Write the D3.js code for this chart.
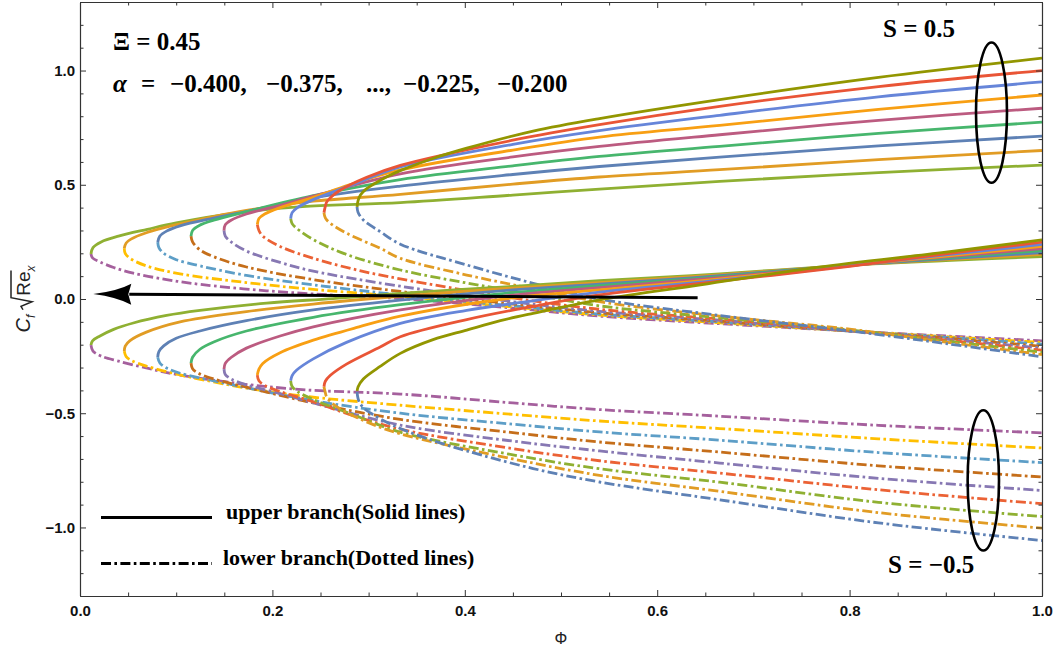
<!DOCTYPE html>
<html>
<head>
<meta charset="utf-8">
<script src="https://cdn.jsdelivr.net/npm/d3@7"></script>
<style>
  body { margin: 0; background: #fff; }
  svg { display: block; }
</style>
</head>
<body>
<svg id="chart" width="1054" height="651"></svg>
<script>
// Skin friction C_f sqrt(Re_x) against the suction parameter Phi,
// Xi = 0.45, alpha = -0.400 ... -0.200 (nine values), S = 0.5 and S = -0.5.
// Each curve is a list of [Phi, value] pairs; index k runs with alpha.

const alphaValues = [-0.400, -0.375, -0.350, -0.325, -0.300, -0.275, -0.250, -0.225, -0.200];

// S = 0.5, upper branch (solid)
const upperS05 = [
  [[0.0114,0.197],[0.0135,0.225],[0.022,0.25],[0.04,0.275],[0.07,0.305],[0.1,0.333],[0.165,0.378],[0.235,0.405],[0.333,0.422],[0.45,0.455],[0.54,0.481],[0.665,0.515],[0.83,0.553],[1.0,0.586]],
  [[0.046,0.222],[0.048,0.245],[0.053,0.262],[0.069,0.29],[0.104,0.329],[0.139,0.361],[0.173,0.388],[0.208,0.41],[0.2425,0.428],[0.333,0.458],[0.45,0.503],[0.54,0.534],[0.665,0.566],[0.83,0.61],[1.0,0.65]],
  [[0.0808,0.249],[0.083,0.275],[0.09,0.297],[0.104,0.32],[0.139,0.354],[0.173,0.383],[0.2425,0.443],[0.333,0.494],[0.45,0.545],[0.54,0.58],[0.665,0.621],[0.83,0.67],[1.0,0.713]],
  [[0.1154,0.275],[0.117,0.3],[0.124,0.322],[0.139,0.345],[0.173,0.382],[0.2425,0.452],[0.333,0.523],[0.45,0.583],[0.54,0.624],[0.665,0.668],[0.83,0.725],[1.0,0.774]],
  [[0.1497,0.3],[0.151,0.325],[0.157,0.345],[0.173,0.372],[0.208,0.41],[0.2425,0.45],[0.333,0.548],[0.45,0.622],[0.54,0.668],[0.665,0.719],[0.83,0.782],[1.0,0.835]],
  [[0.1843,0.326],[0.186,0.352],[0.192,0.372],[0.208,0.4],[0.2425,0.445],[0.28,0.5],[0.333,0.565],[0.45,0.652],[0.54,0.709],[0.665,0.76],[0.83,0.83],[1.0,0.893]],
  [[0.219,0.352],[0.2205,0.378],[0.226,0.4],[0.2425,0.435],[0.28,0.495],[0.333,0.578],[0.45,0.677],[0.54,0.737],[0.665,0.804],[0.83,0.885],[1.0,0.95]],
  [[0.2536,0.378],[0.255,0.405],[0.2565,0.425],[0.262,0.45],[0.27,0.475],[0.298,0.533],[0.333,0.585],[0.45,0.695],[0.54,0.763],[0.665,0.843],[0.83,0.93],[1.0,1.0]],
  [[0.288,0.403],[0.289,0.43],[0.2915,0.455],[0.297,0.48],[0.305,0.502],[0.319,0.535],[0.333,0.562],[0.367,0.615],[0.402,0.66],[0.471,0.735],[0.54,0.79],[0.665,0.873],[0.83,0.97],[1.0,1.054]]
];

// S = 0.5, lower branch (dash-dot)
const lowerS05 = [
  [[0.0114,0.197],[0.013,0.18],[0.0208,0.162],[0.035,0.138],[0.0554,0.113],[0.09,0.085],[0.1247,0.064],[0.194,0.036],[0.263,0.017],[0.333,0.002],[0.45,-0.04],[0.54,-0.075],[0.665,-0.108],[0.8,-0.14],[0.9,-0.162],[1.0,-0.183]],
  [[0.046,0.222],[0.047,0.2],[0.052,0.178],[0.069,0.145],[0.104,0.11],[0.173,0.072],[0.2425,0.042],[0.333,0.012],[0.45,-0.035],[0.54,-0.07],[0.665,-0.104],[0.8,-0.14],[0.9,-0.165],[1.0,-0.19]],
  [[0.0808,0.249],[0.082,0.225],[0.087,0.2],[0.1,0.172],[0.1247,0.145],[0.173,0.103],[0.2425,0.062],[0.333,0.018],[0.45,-0.03],[0.54,-0.066],[0.665,-0.1],[0.8,-0.14],[0.9,-0.168],[1.0,-0.198]],
  [[0.1154,0.275],[0.117,0.25],[0.1247,0.215],[0.139,0.185],[0.173,0.14],[0.2425,0.085],[0.333,0.033],[0.45,-0.022],[0.54,-0.06],[0.665,-0.097],[0.8,-0.14],[0.9,-0.172],[1.0,-0.207]],
  [[0.1497,0.3],[0.151,0.275],[0.157,0.25],[0.173,0.21],[0.208,0.16],[0.2425,0.122],[0.333,0.056],[0.45,-0.012],[0.54,-0.054],[0.665,-0.093],[0.8,-0.14],[0.9,-0.176],[1.0,-0.215]],
  [[0.1843,0.326],[0.186,0.3],[0.19,0.275],[0.208,0.23],[0.2425,0.178],[0.29,0.125],[0.333,0.088],[0.45,0.005],[0.54,-0.045],[0.665,-0.088],[0.8,-0.138],[0.9,-0.18],[1.0,-0.224]],
  [[0.219,0.352],[0.2205,0.33],[0.225,0.31],[0.2425,0.26],[0.277,0.195],[0.333,0.127],[0.402,0.07],[0.471,0.02],[0.54,-0.03],[0.665,-0.082],[0.8,-0.135],[0.9,-0.184],[1.0,-0.233]],
  [[0.2536,0.378],[0.255,0.355],[0.26,0.332],[0.277,0.288],[0.312,0.222],[0.333,0.178],[0.402,0.105],[0.471,0.045],[0.54,-0.012],[0.665,-0.075],[0.8,-0.132],[0.9,-0.189],[1.0,-0.243]],
  [[0.288,0.403],[0.289,0.38],[0.2945,0.346],[0.312,0.295],[0.333,0.24],[0.402,0.149],[0.471,0.069],[0.54,0.0],[0.665,-0.072],[0.8,-0.14],[0.9,-0.195],[1.0,-0.253]]
];

// S = -0.5, upper branch (solid)
const upperSm05 = [
  [[0.0114,-0.202],[0.013,-0.183],[0.0208,-0.162],[0.035,-0.133],[0.0554,-0.105],[0.09,-0.072],[0.1247,-0.05],[0.194,-0.018],[0.263,0.002],[0.333,0.025],[0.45,0.055],[0.54,0.08],[0.665,0.11],[0.8,0.148],[0.9,0.168],[1.0,0.186]],
  [[0.046,-0.229],[0.047,-0.206],[0.052,-0.182],[0.069,-0.145],[0.104,-0.1],[0.173,-0.055],[0.2425,-0.022],[0.333,0.012],[0.45,0.048],[0.54,0.072],[0.665,0.106],[0.8,0.148],[0.9,0.172],[1.0,0.195]],
  [[0.0808,-0.255],[0.082,-0.23],[0.087,-0.205],[0.1,-0.172],[0.1247,-0.14],[0.173,-0.095],[0.2425,-0.048],[0.333,-0.005],[0.45,0.04],[0.54,0.065],[0.665,0.102],[0.8,0.148],[0.9,0.176],[1.0,0.203]],
  [[0.1154,-0.281],[0.117,-0.255],[0.1247,-0.22],[0.139,-0.188],[0.173,-0.14],[0.2425,-0.08],[0.333,-0.025],[0.45,0.028],[0.54,0.058],[0.665,0.098],[0.8,0.148],[0.9,0.18],[1.0,0.212]],
  [[0.1497,-0.307],[0.151,-0.282],[0.157,-0.256],[0.173,-0.215],[0.208,-0.162],[0.2425,-0.122],[0.333,-0.048],[0.45,0.017],[0.54,0.05],[0.665,0.094],[0.8,0.148],[0.9,0.184],[1.0,0.221]],
  [[0.1843,-0.333],[0.186,-0.307],[0.19,-0.282],[0.208,-0.235],[0.2425,-0.18],[0.29,-0.122],[0.333,-0.075],[0.45,0.005],[0.54,0.04],[0.665,0.088],[0.8,0.146],[0.9,0.188],[1.0,0.23]],
  [[0.219,-0.358],[0.2205,-0.335],[0.225,-0.312],[0.2425,-0.262],[0.277,-0.19],[0.333,-0.107],[0.402,-0.05],[0.471,-0.008],[0.54,0.03],[0.665,0.082],[0.8,0.145],[0.9,0.193],[1.0,0.239]],
  [[0.2536,-0.384],[0.255,-0.36],[0.26,-0.335],[0.277,-0.285],[0.312,-0.21],[0.333,-0.165],[0.402,-0.09],[0.471,-0.032],[0.54,0.018],[0.665,0.078],[0.8,0.143],[0.9,0.198],[1.0,0.249]],
  [[0.288,-0.407],[0.289,-0.385],[0.2945,-0.35],[0.312,-0.295],[0.333,-0.238],[0.367,-0.178],[0.402,-0.136],[0.437,-0.095],[0.471,-0.063],[0.54,-0.004],[0.645,0.062],[0.766,0.138],[0.9,0.205],[1.0,0.259]]
];

// S = -0.5, lower branch (dash-dot)
const lowerSm05 = [
  [[0.0114,-0.202],[0.0135,-0.228],[0.022,-0.25],[0.04,-0.272],[0.07,-0.303],[0.1,-0.33],[0.165,-0.37],[0.235,-0.398],[0.333,-0.416],[0.45,-0.455],[0.54,-0.484],[0.665,-0.513],[0.83,-0.553],[1.0,-0.586]],
  [[0.046,-0.229],[0.048,-0.252],[0.053,-0.268],[0.069,-0.294],[0.104,-0.332],[0.139,-0.363],[0.173,-0.39],[0.208,-0.412],[0.2425,-0.43],[0.333,-0.465],[0.45,-0.505],[0.54,-0.534],[0.665,-0.567],[0.83,-0.612],[1.0,-0.652]],
  [[0.0808,-0.255],[0.083,-0.28],[0.09,-0.302],[0.104,-0.325],[0.139,-0.358],[0.173,-0.388],[0.2425,-0.445],[0.333,-0.5],[0.45,-0.548],[0.54,-0.582],[0.665,-0.618],[0.83,-0.672],[1.0,-0.716]],
  [[0.1154,-0.281],[0.117,-0.305],[0.124,-0.327],[0.139,-0.35],[0.173,-0.386],[0.2425,-0.455],[0.333,-0.527],[0.45,-0.585],[0.54,-0.626],[0.665,-0.67],[0.83,-0.73],[1.0,-0.779]],
  [[0.1497,-0.307],[0.151,-0.33],[0.157,-0.35],[0.173,-0.376],[0.208,-0.414],[0.2425,-0.455],[0.333,-0.552],[0.45,-0.622],[0.54,-0.665],[0.665,-0.718],[0.83,-0.785],[1.0,-0.838]],
  [[0.1843,-0.333],[0.186,-0.358],[0.192,-0.378],[0.208,-0.405],[0.2425,-0.45],[0.28,-0.505],[0.333,-0.57],[0.45,-0.655],[0.54,-0.708],[0.665,-0.762],[0.83,-0.835],[1.0,-0.896]],
  [[0.219,-0.358],[0.2205,-0.383],[0.226,-0.405],[0.2425,-0.44],[0.28,-0.5],[0.333,-0.583],[0.45,-0.682],[0.54,-0.743],[0.665,-0.802],[0.83,-0.89],[1.0,-0.952]],
  [[0.2536,-0.384],[0.255,-0.41],[0.2565,-0.43],[0.262,-0.455],[0.27,-0.48],[0.298,-0.538],[0.333,-0.59],[0.45,-0.7],[0.54,-0.772],[0.665,-0.842],[0.83,-0.935],[1.0,-1.003]],
  [[0.288,-0.407],[0.289,-0.435],[0.2915,-0.46],[0.297,-0.485],[0.305,-0.507],[0.319,-0.54],[0.333,-0.567],[0.367,-0.62],[0.402,-0.665],[0.471,-0.742],[0.54,-0.801],[0.665,-0.879],[0.83,-0.98],[1.0,-1.057]]
];

// Line colours for the two branch styles, by alpha index
const solidColors = ["#8FB032","#E19C24","#5E81B5","#47B66D","#BC5B80","#F89F13","#6685D9","#E95536","#929600"];
const dashColors  = ["#A5609D","#FFBF00","#5D9EC7","#C56E1A","#8778B3","#EB6235","#8FB032","#E19C24","#5E81B5"];

// Axis ticks
const xMajorTicks = [0, 0.2, 0.4, 0.6, 0.8, 1.0];
const xMinorTicks = [0.05,0.1,0.15,0.25,0.3,0.35,0.45,0.5,0.55,0.65,0.7,0.75,0.85,0.9,0.95];
const yMajorTicks = [-1.0, -0.5, 0, 0.5, 1.0];
const yMinorTicks = [-1.2,-1.1,-0.9,-0.8,-0.7,-0.6,-0.4,-0.3,-0.2,-0.1,0.1,0.2,0.3,0.4,0.6,0.7,0.8,0.9,1.1,1.2];

// Annotation anchors (data coordinates)
const arrowFrom = [0.642, 0.006];
const arrowTo = [0.0138, 0.022];
const ellipsePos = { cx: 0.9475, cy: 0.816, rx: 0.0161, ry: 0.307 };
const ellipseNeg = { cx: 0.939, cy: -0.794, rx: 0.0163, ry: 0.307 };

const W = 1054, H = 651;
const plot = { left: 80, right: 1042, top: 2, bottom: 596 };

const x = d3.scaleLinear().domain([0, 1]).range([plot.left, plot.right]);
const y = d3.scaleLinear().domain([-1.3, 1.3]).range([plot.bottom, plot.top]);

const svg = d3.select("#chart");
svg.append("rect").attr("width", W).attr("height", H).attr("fill", "#fff");

svg.append("defs").append("clipPath").attr("id", "plotClip")
  .append("rect")
  .attr("x", plot.left).attr("y", plot.top)
  .attr("width", plot.right - plot.left).attr("height", plot.bottom - plot.top);

const line = d3.line()
  .x(d => x(d[0]))
  .y(d => y(d[1]))
  .curve(d3.curveCatmullRom.alpha(0.5));

const DASH = "10,3.4,2.6,3.4";
const curves = svg.append("g").attr("clip-path", "url(#plotClip)");

function drawFamily(data, colors, dashed) {
  curves.append("g")
    .selectAll("path")
    .data(data)
    .join("path")
    .attr("d", line)
    .attr("fill", "none")
    .attr("stroke", (d, i) => colors[i])
    .attr("stroke-width", 2.8)
    .attr("stroke-linecap", "butt")
    .attr("stroke-dasharray", dashed ? DASH : null);
}

drawFamily(lowerS05, dashColors, true);
drawFamily(upperSm05, solidColors, false);
drawFamily(lowerSm05, dashColors, true);
drawFamily(upperS05, solidColors, false);

// ---- frame and ticks ----
const fmt = d3.format(".1f");
const frameColor = "#333";

function styleAxis(g) {
  g.selectAll(".domain").attr("stroke", frameColor).attr("stroke-width", 1.1);
  g.selectAll(".tick line").attr("stroke", frameColor).attr("stroke-width", 1);
  g.selectAll(".tick text")
    .attr("fill", "#111")
    .style("font-family", "'Liberation Sans', Arial, sans-serif")
    .style("font-weight", "bold")
    .style("font-size", "15px");
}

const bottomG = svg.append("g").attr("transform", `translate(0,${plot.bottom})`);
bottomG.append("g").call(d3.axisBottom(x).tickValues(xMinorTicks).tickSizeInner(-3.5).tickSizeOuter(0).tickFormat("")).call(styleAxis);
bottomG.append("g").call(d3.axisBottom(x).tickValues(xMajorTicks).tickSizeInner(-6).tickSizeOuter(0).tickPadding(9).tickFormat(fmt)).call(styleAxis);

const topG = svg.append("g").attr("transform", `translate(0,${plot.top})`);
topG.append("g").call(d3.axisTop(x).tickValues(xMinorTicks).tickSizeInner(-3.5).tickSizeOuter(0).tickFormat("")).call(styleAxis);
topG.append("g").call(d3.axisTop(x).tickValues(xMajorTicks).tickSizeInner(-6).tickSizeOuter(0).tickFormat("")).call(styleAxis);

const leftG = svg.append("g").attr("transform", `translate(${plot.left},0)`);
leftG.append("g").call(d3.axisLeft(y).tickValues(yMinorTicks).tickSizeInner(-3.5).tickSizeOuter(0).tickFormat("")).call(styleAxis);
leftG.append("g").call(d3.axisLeft(y).tickValues(yMajorTicks).tickSizeInner(-6).tickSizeOuter(0).tickPadding(5).tickFormat(fmt)).call(styleAxis);

const rightG = svg.append("g").attr("transform", `translate(${plot.right},0)`);
rightG.append("g").call(d3.axisRight(y).tickValues(yMinorTicks).tickSizeInner(-3.5).tickSizeOuter(0).tickFormat("")).call(styleAxis);
rightG.append("g").call(d3.axisRight(y).tickValues(yMajorTicks).tickSizeInner(-6).tickSizeOuter(0).tickFormat("")).call(styleAxis);

// x-axis title
svg.append("text")
  .attr("x", (plot.left + plot.right) / 2)
  .attr("y", 644)
  .attr("text-anchor", "middle")
  .style("font-family", "'Liberation Sans', Arial, sans-serif")
  .style("font-size", "16px")
  .attr("fill", "#222")
  .text("Φ");

// y-axis title: C_f sqrt(Re_x), built piece by piece and rotated
(function () {
  const g = svg.append("g").attr("transform", "translate(30,299) rotate(-90)");
  const inner = g.append("g");
  const font = "'Liberation Sans', Arial, sans-serif";
  let cx = 0;
  function piece(txt, size, italic, dy) {
    const t = inner.append("text")
      .attr("x", cx).attr("y", dy)
      .style("font-family", font)
      .style("font-size", size + "px")
      .style("font-style", italic ? "italic" : "normal")
      .attr("fill", "#222")
      .text(txt);
    cx += t.node().getComputedTextLength();
    return t;
  }
  piece("C", 20, true, 0);
  piece("f", 12, true, 5);
  cx += 5;
  const r0 = cx;
  const topY = -19;
  cx += 14;
  piece("Re", 19, false, 0);
  const reEnd = cx + 1;
  inner.append("path")
    .attr("d", `M${r0},-7 L${r0 + 3.5},-9 L${r0 + 8},2 L${r0 + 12},${topY} L${reEnd},${topY}`)
    .attr("fill", "none").attr("stroke", "#222").attr("stroke-width", 1.5)
    .attr("stroke-linejoin", "miter");
  piece("x", 12, true, 5);
  inner.attr("transform", `translate(${-cx / 2},0)`);
})();

// ---- annotations ----
const serif = "'Liberation Serif', 'Times New Roman', serif";

function label(xp, yp, txt, size, italic) {
  return svg.append("text")
    .attr("x", xp).attr("y", yp)
    .style("font-family", serif)
    .style("font-weight", "bold")
    .style("font-size", size + "px")
    .style("font-style", italic ? "italic" : "normal")
    .attr("fill", "#000")
    .text(txt);
}

label(113, 50, "Ξ = 0.45", 25);
label(113, 92, "α", 25, true);
label(141, 92, "=", 25);
label(170, 92, "−0.400,", 25);
label(266, 92, "−0.375,", 25);
label(366, 92, "...,", 25);
label(403, 92, "−0.225,", 25);
label(497, 92, "−0.200", 25);

label(883, 37, "S = 0.5", 25);
label(888, 573, "S = −0.5", 25);

// ellipses marking the S groups
[ellipsePos, ellipseNeg].forEach(e => {
  svg.append("ellipse")
    .attr("cx", x(e.cx)).attr("cy", y(e.cy))
    .attr("rx", x(e.cx + e.rx) - x(e.cx))
    .attr("ry", y(e.cy) - y(e.cy + e.ry))
    .attr("fill", "none").attr("stroke", "#000").attr("stroke-width", 2.6);
});

// arrow pointing towards decreasing Phi
(function () {
  const x0 = x(arrowFrom[0]), y0 = y(arrowFrom[1]);
  const x1 = x(arrowTo[0]), y1 = y(arrowTo[1]);
  const ang = Math.atan2(y1 - y0, x1 - x0);
  const len = 38, half = 10.5, notch = 3;
  const ux = Math.cos(ang), uy = Math.sin(ang);
  const px = -uy, py = ux;
  const bx = x1 - ux * len, by = y1 - uy * len;
  svg.append("line")
    .attr("x1", x0).attr("y1", y0)
    .attr("x2", bx + ux * 2).attr("y2", by + uy * 2)
    .attr("stroke", "#000").attr("stroke-width", 3);
  const pts = [
    [x1, y1],
    [bx + px * half, by + py * half],
    [bx + ux * notch, by + uy * notch],
    [bx - px * half, by - py * half]
  ];
  svg.append("path")
    .attr("d", `M${pts[0]}Q${bx + ux * 14 + px * 3},${by + uy * 14 + py * 3} ${pts[1]}L${pts[2]}L${pts[3]}Q${bx + ux * 14 - px * 3},${by + uy * 14 - py * 3} ${pts[0]}Z`)
    .attr("fill", "#000");
})();

// legend for the two branch styles
svg.append("line").attr("x1", 101).attr("x2", 212).attr("y1", 517.5).attr("y2", 517.5)
  .attr("stroke", "#000").attr("stroke-width", 2.8);
svg.append("line").attr("x1", 101).attr("x2", 212).attr("y1", 563.5).attr("y2", 563.5)
  .attr("stroke", "#000").attr("stroke-width", 2.8).attr("stroke-dasharray", DASH);
label(226, 519, "upper branch(Solid lines)", 22);
label(223, 565, "lower branch(Dotted lines)", 22);
</script>
</body>
</html>
